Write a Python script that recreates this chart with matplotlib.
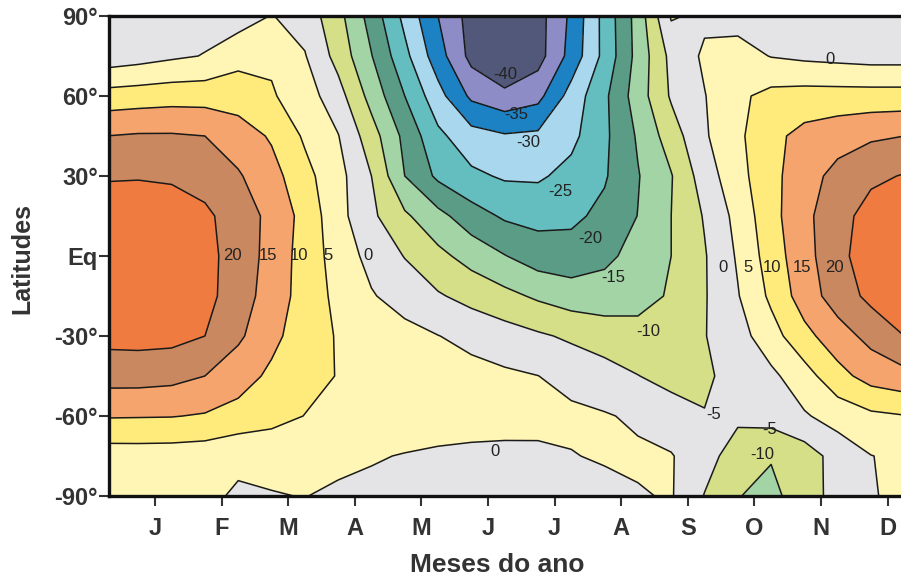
import numpy as np
import matplotlib.pyplot as plt

plt.rcParams['font.family'] = ['Liberation Sans', 'DejaVu Sans']

# grid: months (J=1 ... D=12) and latitudes
months = [0.25, 0.75, 1.25, 1.75, 2.25, 2.75, 3.25, 3.75, 4.25, 4.75, 5.25, 5.75,
          6.25, 6.75, 7.25, 7.75, 8.25, 8.75, 9.25, 9.75, 10.25, 10.75, 11.25, 11.75, 12.25]
lats = [90, 75, 60, 45, 30, 15, 0, -15, -30, -45, -60, -75, -90]

# estimated values, one row per latitude (90 -> -90)
r90 = [-3, -2.5, -2, -1.8, -2.5, 0.2, -2, -8.4, -17, -26.4, -35, -42, -46, -42, -34, -23.3, -13, 0.5, -1, -2, -3, -3, -3, -3, -3]
r75 = [-3, -2, -0.8, 0.2, 3.5, 4.2, 0.3, -6.8, -14.8, -23.6, -32.8, -41.5, -46, -42, -33.2, -23.5, -13.3, -3.6, 0.8, 2, -0.2, -1, -1.5, -2, -2]
r60 = [7, 7.5, 8, 8, 7.5, 5.5, 2.4, -3, -11.8, -20, -28.2, -36, -38.5, -36.5, -28, -21, -12.5, -4.4, -0.2, 4, 6.5, 7, 7, 7, 7]
r45 = [15, 15.5, 15.5, 15, 12.6, 9.4, 4.3, 0.2, -7.8, -16.3, -23.9, -28, -29.5, -29, -26.3, -21, -14.4, -7.5, -0.6, 4, 8.7, 11.5, 13, 14.3, 15]
r30 = [19.5, 19.6, 19.2, 18, 15.5, 11.9, 6.5, 1.7, -5, -15, -21, -24, -25.6, -25.7, -23.5, -20.5, -15.3, -10.3, -2.5, 3.3, 8.5, 13, 16.5, 19, 20.3]
r15 = [23, 23.5, 23, 21, 17.6, 13.7, 8.3, 1.7, -4, -9.2, -13.5, -17.8, -20.7, -21.5, -21, -18.8, -14.9, -10, -4.6, 1.6, 8.3, 13.8, 18.1, 22, 24]
r0 = [24, 24.5, 24, 21.5, 17.9, 13.3, 7.9, 2.9, -1.6, -5.2, -8.7, -11.9, -14.8, -17.5, -18, -16, -13.5, -10, -5.4, 0.6, 7.4, 13.3, 18.4, 23, 24.5]
rs15 = [23.5, 23.8, 23.3, 21.5, 17.5, 12.7, 8, 3.7, 0.4, -2.1, -4.5, -6.6, -8.6, -10.8, -12.5, -13, -12, -9.4, -5.4, -0.3, 6, 12.5, 17.3, 21.3, 23.5]
rs30 = [21.5, 21.7, 21.5, 20, 15.9, 11.25, 7.55, 4.6, 3.1, 1.6, 0.1, -1.4, -2.8, -4.3, -5.8, -7, -8, -7.5, -5.2, -2, 3, 8.5, 12.9, 16.5, 20]
rs45 = [17, 17, 16.5, 15, 12, 9.1, 6.7, 4.8, 4, 3.2, 2.4, 1.6, 0.8, 0.05, -1.6, -3.3, -4.9, -6.5, -5.8, -3.2, -1.1, 3, 8.3, 12, 13.5]
rs60 = [10.4, 10.3, 10.2, 9.6, 8.4, 6.8, 4.9, 4.4, 3.9, 3.5, 3.1, 2.7, 2.2, 1.6, 1, 0.4, -0.8, -2.8, -4.8, -4, -3, -0.5, 2, 4, 4.8]
rs75 = [2.5, 2.6, 2.5, 2.2, 0.8, 1.2, 1.5, 1.2, 0.5, -0.3, -1, -1.4, -1.4, -1, -0.2, 0.5, 0.8, 0.3, -3, -7.5, -9.6, -7.5, -3, -0.1, 1]
rs90 = [2, 2, 1.5, 0.8, -0.5, -0.2, 0.1, -0.8, -1.5, -2, -2.5, -2.5, -2.5, -2.2, -2, -1.5, -0.4, 0.4, -5.2, -9.8, -11.5, -7, -3.5, -0.3, 1]

levels = [-50, -40, -35, -30, -25, -20, -15, -10, -5, 0, 5, 10, 15, 20, 30]
fill_colors = ['#525879', '#8d8cc6', '#1d82c4', '#a9d8ee', '#64bdbf', '#5b9c87',
               '#a2d4a6', '#d4df88', '#e4e4e6', '#fff5b4', '#ffeb7b', '#f5a46d',
               '#c9885f', '#ef7b41']

month_labels = ['J', 'F', 'M', 'A', 'M', 'J', 'J', 'A', 'S', 'O', 'N', 'D']
lat_ticks = [90, 60, 30, 0, -30, -60, -90]
lat_labels = ['90°', '60°', '30°', 'Eq', '-30°', '-60°', '-90°']

# contour labels as in the figure: (month, latitude, text)
line_labels = [(2.17, 0, '20'), (2.7, 0, '15'), (3.16, 0, '10'), (3.6, 0, '5'), (4.2, 0, '0'),
               (6.26, 68, '-40'), (6.42, 53, '-35'), (6.6, 42.5, '-30'), (7.08, 24, '-25'),
               (7.53, 6.5, '-20'), (7.88, -8, '-15'), (8.4, -28.5, '-10'), (9.38, -59.6, '-5'),
               (6.1, -73.5, '0'), (11.14, 73.5, '0'), (10.23, -65.2, '-5'), (10.11, -74.6, '-10'),
               (9.53, -4.5, '0'), (9.9, -4.5, '5'), (10.26, -4.5, '10'), (10.72, -4.5, '15'),
               (11.2, -4.5, '20')]

Z = np.array([r90, r75, r60, r45, r30, r15, r0, rs15, rs30, rs45, rs60, rs75, rs90])
X, Y = np.meshgrid(months, lats)

fig = plt.figure(figsize=(9.01, 5.79), dpi=100)
ax = fig.add_axes([109 / 901, 1 - 496 / 579, 1 - 109 / 901, 480 / 579])

ax.contourf(X, Y, Z, levels=levels, colors=fill_colors)
ax.contour(X, Y, Z, levels=levels[1:-1], colors='#1a1a1a', linewidths=1.1,
           linestyles='solid')

for m, la, txt in line_labels:
    ax.text(m, la, txt, fontsize=12, color='#222222', ha='center', va='center')

ax.set_xlim(0.31, 12.2)
ax.set_ylim(-90, 90)
ax.set_xticks(range(1, 13))
ax.set_xticklabels(month_labels)
ax.set_yticks(lat_ticks)
ax.set_yticklabels(lat_labels)

ax.tick_params(direction='out', length=7, width=1.5, color='#333333',
               labelsize=17, labelcolor='#333333')
ax.tick_params(axis='x', pad=8)
ax.tick_params(axis='y', pad=1)
for lab in ax.get_xticklabels() + ax.get_yticklabels():
    lab.set_fontweight('bold')

for side in ['left', 'top', 'bottom']:
    ax.spines[side].set_linewidth(2.4)
    ax.spines[side].set_color('#111111')
ax.spines['right'].set_visible(False)

fig.text(497 / 901, 1 - 565 / 579, 'Meses do ano', fontsize=19, fontweight='bold',
         color='#333333', ha='center', va='center')
fig.text(22 / 901, 1 - 258 / 579, 'Latitudes', fontsize=18, fontweight='bold',
         color='#333333', ha='center', va='center', rotation=90)

fig.savefig('out.png', dpi=100)
